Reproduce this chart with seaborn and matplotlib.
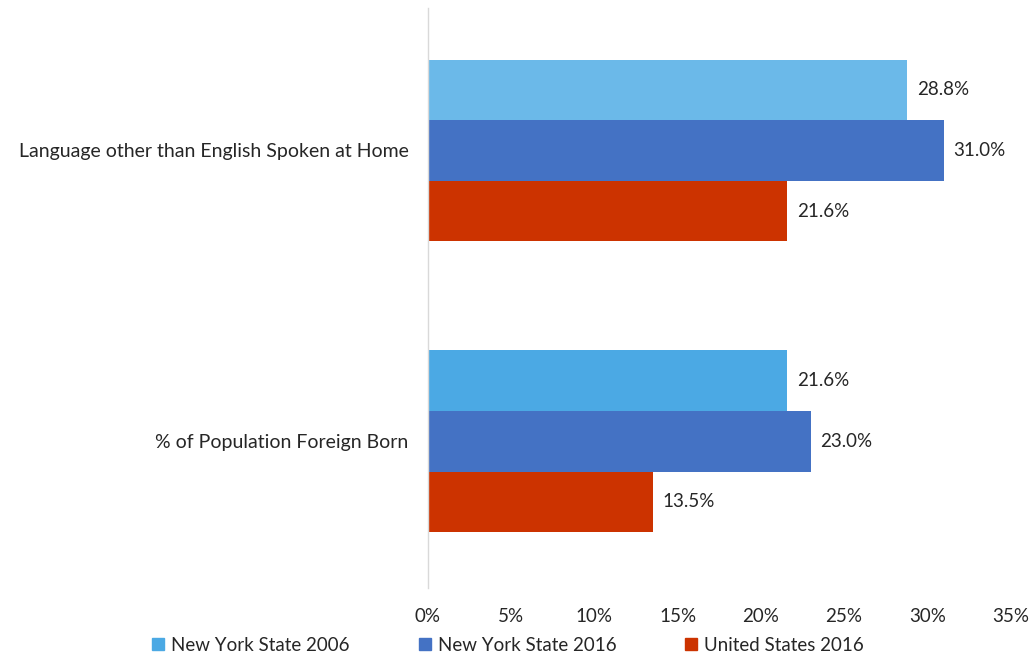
import matplotlib
matplotlib.use('Agg')
import matplotlib.pyplot as plt
import pandas as pd
import seaborn as sns
from matplotlib.lines import Line2D

# data
categories = ['Language other than English Spoken at Home', '% of Population Foreign Born']
series = ['New York State 2006', 'New York State 2016', 'United States 2016']
nys_2006 = [28.8, 21.6]
nys_2016 = [31.0, 23.0]
us_2016 = [21.6, 13.5]
xticks = [0, 5, 10, 15, 20, 25, 30, 35]

colors = ['#4BA9E4', '#4472C4', '#CC3300']

rows = []
for s, vals in zip(series, [nys_2006, nys_2016, us_2016]):
    for c, v in zip(categories, vals):
        rows.append({'category': c, 'series': s, 'value': v})
df = pd.DataFrame(rows)

sns.set_style('white')
plt.rcParams['font.family'] = ['Lato', 'DejaVu Sans']

fig = plt.figure(figsize=(10.31, 6.61), dpi=100)
ax = fig.add_axes([0.415, 0.110, 0.565, 0.878])

sns.barplot(data=df, y='category', x='value', hue='series', order=categories,
            hue_order=series, palette=colors, orient='h', width=0.625,
            saturation=1, linewidth=0, ax=ax, legend=False)

# top light-blue bar is a slightly paler shade in the original
ax.containers[0].patches[0].set_facecolor('#6BB9E9')

for cont in ax.containers:
    ax.bar_label(cont, labels=[f'{v:.1f}%' for v in cont.datavalues],
                 padding=7, fontsize=13.5, color='#262626')

ax.set_xlim(0, 35)
ax.set_ylim(1.505, -0.49)
ax.set_xticks(xticks)
ax.set_xticklabels([f'{t}%' for t in xticks], fontsize=13.5, color='#262626')
ax.tick_params(axis='y', labelsize=14, labelcolor='#262626', length=0, pad=14)
ax.tick_params(axis='x', length=0, pad=14)
ax.set_xlabel('')
ax.set_ylabel('')
for side in ['top', 'right', 'bottom']:
    ax.spines[side].set_visible(False)
ax.spines['left'].set_color('#D9D9D9')
ax.spines['left'].set_linewidth(1)

handles = [Line2D([0], [0], marker='s', linestyle='', markersize=8,
                  markerfacecolor=c, markeredgecolor=c) for c in colors]
fig.legend(handles, series, loc='lower center', bbox_to_anchor=(0.492, -0.015),
           ncol=3, frameon=False, fontsize=13.5, handlelength=0.8,
           handletextpad=0.3, columnspacing=3.6, labelcolor='#262626')

plt.savefig('out.png', dpi=100)
